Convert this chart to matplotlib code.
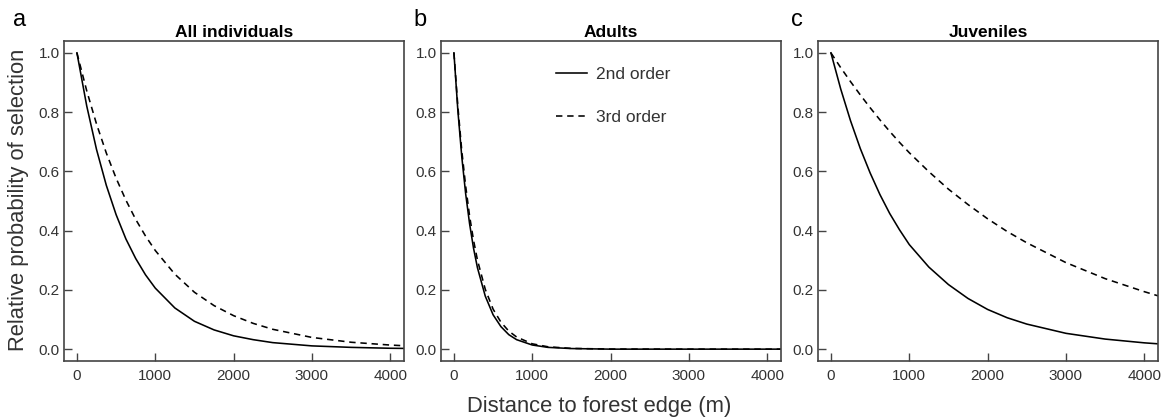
import numpy as np
import matplotlib
matplotlib.use('Agg')
import matplotlib.pyplot as plt

plt.rcParams['font.family'] = ['Liberation Sans', 'DejaVu Sans']

# distance to forest edge (m)
dist_ac = [0, 125, 250, 375, 500, 625, 750, 875, 1000, 1250, 1500, 1750,
           2000, 2250, 2500, 3000, 3500, 4000, 4175]
dist_b = [0, 50, 100, 150, 200, 250, 300, 400, 500, 600, 700, 800, 1000,
          1200, 1500, 2000, 3000, 4175]

# a: all individuals
all_2nd = [1.0, 0.821, 0.674, 0.553, 0.454, 0.372, 0.306, 0.251, 0.206, 0.139,
           0.094, 0.065, 0.045, 0.032, 0.022, 0.011, 0.006, 0.003, 0.0025]
all_3rd = [1.0, 0.872, 0.76, 0.662, 0.577, 0.503, 0.438, 0.382, 0.333, 0.253,
           0.192, 0.147, 0.113, 0.087, 0.067, 0.0395, 0.0233, 0.0138, 0.0115]

# b: adults
adu_2nd = [1.0, 0.806, 0.65, 0.524, 0.423, 0.341, 0.275, 0.179, 0.116, 0.076,
           0.049, 0.032, 0.014, 0.006, 0.002, 0.0, 0.0, 0.0]
adu_3rd = [1.0, 0.82, 0.67, 0.55, 0.449, 0.368, 0.301, 0.202, 0.135, 0.091,
           0.061, 0.041, 0.018, 0.008, 0.0025, 0.0003, 0.0, 0.0]

# c: juveniles
juv_2nd = [1.0, 0.878, 0.771, 0.677, 0.595, 0.522, 0.458, 0.403, 0.353, 0.277,
           0.218, 0.171, 0.134, 0.106, 0.0846, 0.0534, 0.034, 0.0213, 0.018]
juv_3rd = [1.0, 0.95, 0.903, 0.858, 0.815, 0.774, 0.735, 0.698, 0.663, 0.599,
           0.54, 0.488, 0.44, 0.397, 0.359, 0.292, 0.238, 0.194, 0.18]

titles = ['All individuals', 'Adults', 'Juveniles']
letters = ['a', 'b', 'c']
xticks = [0, 1000, 2000, 3000, 4000]
yticks = [0.0, 0.2, 0.4, 0.6, 0.8, 1.0]

txt = '#333333'
edge = '#444444'

fig = plt.figure(figsize=(11.61, 4.19), dpi=100)
W, H = 1161., 419.
lefts = [64, 441, 818]
letter_x = [13, 413, 791]
panels = [(dist_ac, all_2nd, all_3rd), (dist_b, adu_2nd, adu_3rd),
          (dist_ac, juv_2nd, juv_3rd)]

for i, (x, s2, s3) in enumerate(panels):
    ax = fig.add_axes([lefts[i] / W, 58 / H, 340 / W, 320 / H])
    ax.plot(x, s2, color='black', lw=1.15, label='2nd order')
    ax.plot(x, s3, color='black', lw=1.15, ls=(0, (4, 3)), label='3rd order')
    ax.set_xlim(-165, 4175)
    ax.set_ylim(-0.04, 1.04)
    ax.set_xticks(xticks)
    ax.set_yticks(yticks)
    ax.set_yticklabels(['%.1f' % v for v in yticks])
    ax.tick_params(direction='in', length=6, width=1, color=edge,
                   labelsize=11, labelcolor=txt)
    ax.tick_params(axis='x', pad=6)
    ax.tick_params(axis='y', pad=3)
    for sp in ax.spines.values():
        sp.set_color(edge)
        sp.set_linewidth(1.2)
    ax.set_title(titles[i], fontsize=12.5, fontweight='bold', color='black', pad=3)
    fig.text(letter_x[i] / W, 1 - 20 / H, letters[i], fontsize=17,
             color='black', ha='left', va='center')
    if i == 1:
        ax.legend(loc='upper left', bbox_to_anchor=(0.338, 0.92), frameon=False,
                  fontsize=12.5, handlelength=1.8, handletextpad=0.5,
                  labelspacing=1.64, borderpad=0, borderaxespad=0,
                  labelcolor=txt)

fig.text(19 / W, 0.5 + 10 / H, 'Relative probability of selection', rotation=90,
         fontsize=15.8, color=txt, ha='center', va='center')
fig.text(599 / W, 13 / H, 'Distance to forest edge (m)', fontsize=15.8,
         color=txt, ha='center', va='center')

fig.savefig('out.png', dpi=100)
